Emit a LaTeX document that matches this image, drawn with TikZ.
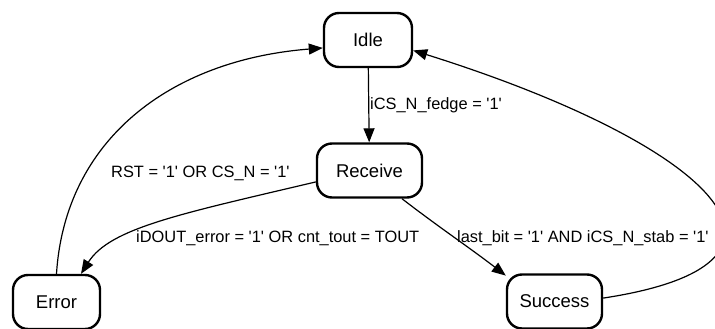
\documentclass[tikz,border=0pt]{standalone}
\usepackage{fontspec}
\setmainfont{Liberation Sans}
\usetikzlibrary{arrows.meta}
\newcommand\sq{\textquotesingle}
\tikzset{
  state/.style={draw=black, line width=2.4pt, rounded corners=15pt,
    minimum height=54pt, inner sep=0pt, fill=white,
    font=\fontsize{18.5}{20}\selectfont},
  edge/.style={draw=black, line width=1.2pt,
    -{Triangle[length=14pt,width=11pt]}},
  lbl/.style={anchor=base west, inner sep=0pt,
    font=\fontsize{16.4}{18}\selectfont}
}
\begin{document}
\begin{tikzpicture}[x=1pt,y=-1pt]
\useasboundingbox (0,0) rectangle (715,329);
\clip (0,0) rectangle (715,329);
\fill[white] (0,0) rectangle (715,329);

% states
\node[state, minimum width=88pt]  (Idle)    at (368,40)    {Idle};
\node[state, minimum width=105pt] (Receive) at (369.5,170.5) {Receive};
\node[state, minimum width=87pt]  (Error)   at (56.5,302)  {Error};
\node[state, minimum width=95pt]  (Success) at (554.5,301.5) {Success};

% transitions
\draw[edge] (Idle) -- (Receive);
\draw[edge] (Receive.192) .. controls (180,214) and (110,228) .. (Error.49);
\draw[edge] (Receive.319) .. controls (440,228) and (470,248) .. (Success.152);
\draw[edge] (Error.north) .. controls (65,140) and (170,60) .. (Idle.190);
\draw[edge] (Success.4) .. controls (840,262) and (705,142) .. (Idle.347);

% transition conditions
\node[lbl] (l1) at (370,110) {iCS\_N\_fedge = \sq1\sq};
\node[lbl] (l2) at (111,177) {RST = \sq1\sq{} OR CS\_N = \sq1\sq};
\node[lbl] (l3) at (136,242) {iDOUT\_error = \sq1\sq{} OR cnt\_tout = TOUT};
\node[lbl] (l4) at (457,242) {last\_bit = \sq1\sq{} AND iCS\_N\_stab = \sq1\sq};
\end{tikzpicture}
\end{document}
